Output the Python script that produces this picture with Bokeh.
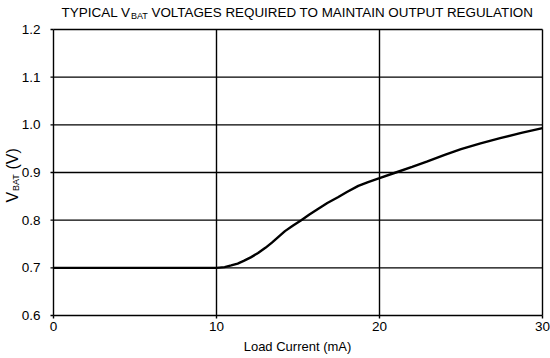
import math
from bokeh.plotting import figure
from bokeh.models import Label, Range1d
from bokeh.core.properties import value
from bokeh.embed import file_html
from bokeh.resources import INLINE

# ---- data ----
load_current_ma = [0, 10, 10.5, 10.9, 11.3, 11.7, 12.1, 12.55, 13.0, 13.4, 13.8, 14.2, 14.7, 15.2,
                   15.7, 16.2, 16.8, 17.45, 18.0, 18.7, 19.3, 20, 21, 22, 22.9, 24, 25, 26.2,
                   27.4, 28.7, 30]
vbat_v = [0.7, 0.7, 0.7015, 0.705, 0.709, 0.715, 0.722, 0.731, 0.742, 0.753, 0.765, 0.777, 0.789, 0.8,
          0.812, 0.823, 0.836, 0.848, 0.859, 0.872, 0.88, 0.888, 0.9, 0.912, 0.923, 0.937, 0.949, 0.961,
          0.972, 0.983, 0.993]
x_ticks = [0, 10, 20, 30]
x_tick_labels = ["0", "10", "20", "30"]
y_ticks = [0.6, 0.7, 0.8, 0.9, 1.0, 1.1, 1.2]
y_tick_labels = ["0.6", "0.7", "0.8", "0.9", "1.0", "1.1", "1.2"]
title_parts = ["TYPICAL V", "BAT", "VOLTAGES REQUIRED TO MAINTAIN OUTPUT REGULATION"]
ylabel_parts = ["V", "BAT", "(V)"]
xlabel = "Load Current (mA)"

W, H = 550, 358
L, R, T, B = 53, 8, 29, 43          # plot-box margins in pixels
X0, X1 = x_ticks[0], x_ticks[-1]
Y0, Y1 = y_ticks[0], y_ticks[-1]
fw, fh = W - L - R, H - T - B
FONT = "Liberation Sans"

x_range = Range1d(X0 - L * (X1 - X0) / fw, X1 + R * (X1 - X0) / fw)
y_range = Range1d(Y0 - B * (Y1 - Y0) / fh, Y1 + T * (Y1 - Y0) / fh)

p = figure(width=W, height=H, output_backend="svg", toolbar_location=None,
           x_range=x_range, y_range=y_range,
           x_axis_location=None, y_axis_location=None,
           min_border=0)
p.outline_line_color = None
p.background_fill_color = "white"
p.border_fill_color = "white"
p.xgrid.visible = False
p.ygrid.visible = False

# grid lines (including the box edges)
p.segment(x0=x_ticks, y0=[Y0] * len(x_ticks), x1=x_ticks, y1=[Y1] * len(x_ticks),
          line_color="black", line_width=1.4)
p.segment(x0=[X0] * len(y_ticks), y0=y_ticks, x1=[X1] * len(y_ticks), y1=y_ticks,
          line_color="black", line_width=1.4)

# tick marks
p.ray(x=x_ticks, y=[Y0] * len(x_ticks), length=3, length_units="screen",
      angle=-math.pi / 2, line_color="black", line_width=1.4)
p.ray(x=[X0] * len(y_ticks), y=y_ticks, length=3, length_units="screen",
      angle=math.pi, line_color="black", line_width=1.4)

# tick labels
p.text(x=x_ticks, y=[Y0] * len(x_ticks), text=x_tick_labels, y_offset=11,
       text_align="center", text_baseline="middle", text_font=value(FONT),
       text_font_size="13.5px", text_color="black")
p.text(x=[X0] * len(y_ticks), y=y_ticks, text=y_tick_labels, x_offset=-13,
       text_align="right", text_baseline="middle", text_font=value(FONT),
       text_font_size="13.5px", text_color="black")

# curve
p.line(load_current_ma, vbat_v, line_color="black", line_width=2.4)

def lab(text, px, py, size, align="left", angle=0.0):
    p.add_layout(Label(x=px, y=H - py, x_units="screen", y_units="screen",
                       text=text, text_font=FONT, text_font_size=size,
                       text_align=align, text_baseline="middle", angle=angle,
                       text_color="black"))

# title
lab(title_parts[0], 130, 11.5, "13.5px", "right")
lab(title_parts[1], 130.5, 15.5, "9px")
lab(title_parts[2], 151, 11.5, "13.4px")

# y label (rotated)
a = math.pi / 2
lab(ylabel_parts[0], 11.5, 202, "16px", angle=a)
lab(ylabel_parts[1], 15.5, 190.5, "9px", angle=a)
lab(ylabel_parts[2], 11.5, 169, "16px", angle=a)

# x label
lab(xlabel, 297, 346, "13px", "center")

open("out.html", "w").write(file_html(p, INLINE))
